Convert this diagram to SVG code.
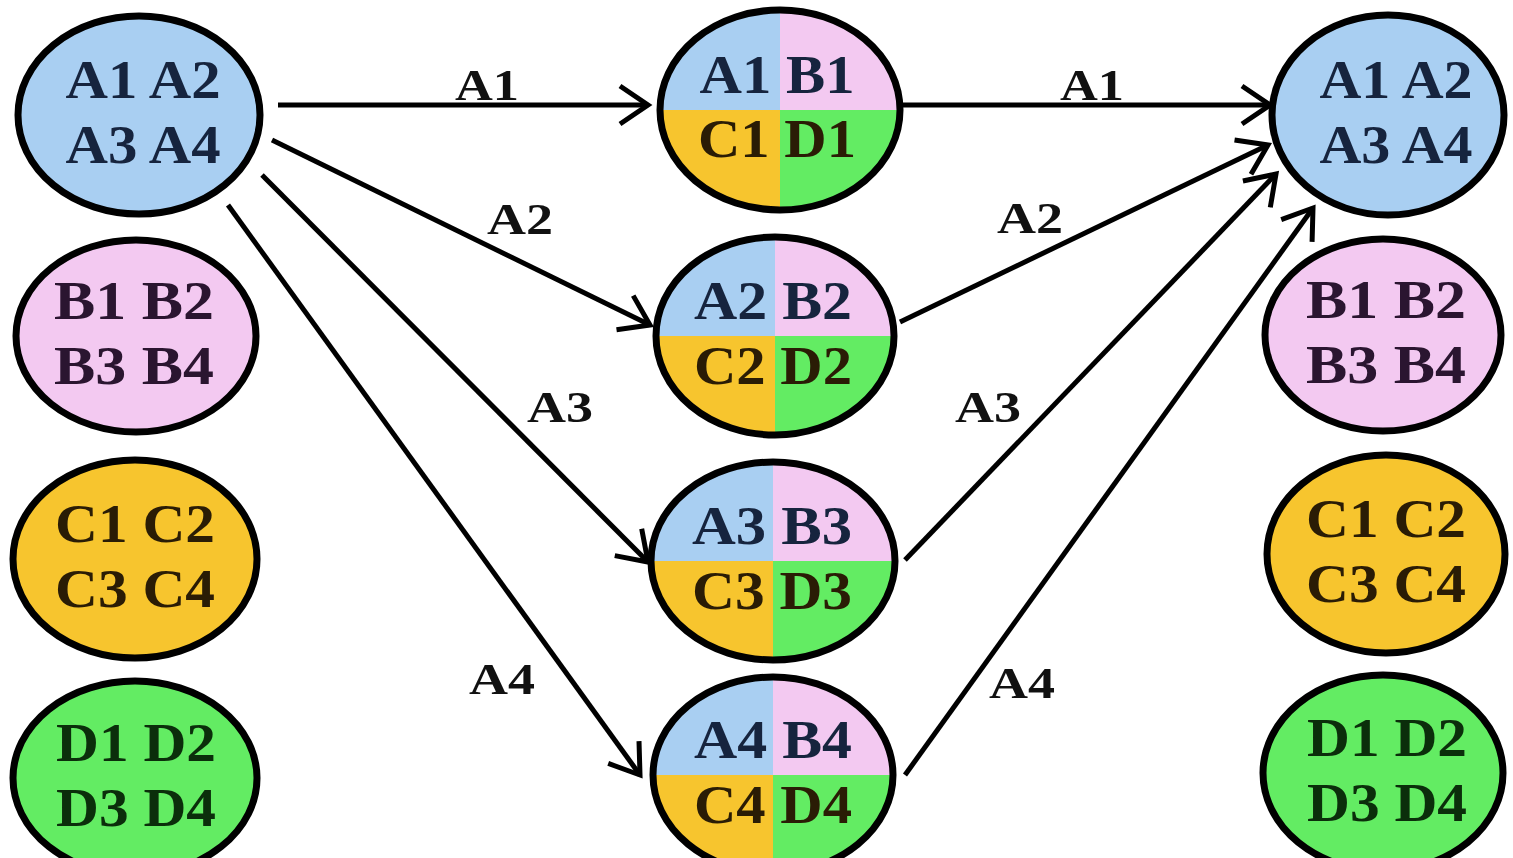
<svg xmlns="http://www.w3.org/2000/svg" width="1513" height="858" viewBox="0 0 1513 858">
<defs>
<style>
.nd{stroke:#000;stroke-width:7}
.q{stroke:none}
.blue{fill:#a9cff2}
.pink{fill:#f3c9f1}
.yel{fill:#f7c52e}
.grn{fill:#63ec63}
.t{font-family:"Liberation Serif","Times New Roman",serif;font-weight:bold;font-size:54px;text-anchor:middle}
.lb{font-family:"Liberation Serif","Times New Roman",serif;font-weight:bold;font-size:45px;text-anchor:middle;fill:#111}
.cn{stroke:#000;stroke-width:5;fill:none}
.tb{fill:#16243e}
.tp{fill:#2a1530}
.ty{fill:#2a1c05}
.tg{fill:#0b2e0b}
</style>
<marker id="ah" markerUnits="userSpaceOnUse" viewBox="-34 -22 40 44" markerWidth="40" markerHeight="44" refX="0" refY="0" orient="auto">
<path d="M-28,-19 L0,0 L-28,19" fill="none" stroke="#000" stroke-width="5" stroke-linejoin="miter"/>
</marker>
</defs>
<rect width="1513" height="858" fill="#fff"/>

<g id="connectors">
<line class="cn" x1="278" y1="105" x2="648" y2="105" marker-end="url(#ah)"/>
<line class="cn" x1="272" y1="140" x2="650" y2="325" marker-end="url(#ah)"/>
<line class="cn" x1="262" y1="175" x2="648" y2="562" marker-end="url(#ah)"/>
<line class="cn" x1="228" y1="205" x2="640" y2="775" marker-end="url(#ah)"/>
<line class="cn" x1="903" y1="105" x2="1270" y2="105" marker-end="url(#ah)"/>
<line class="cn" x1="900" y1="322" x2="1268" y2="145" marker-end="url(#ah)"/>
<line class="cn" x1="905" y1="560" x2="1276" y2="174" marker-end="url(#ah)"/>
<line class="cn" x1="905" y1="775" x2="1313" y2="208" marker-end="url(#ah)"/>
<text class="lb" x="487" y="100" textLength="64" lengthAdjust="spacingAndGlyphs">A1</text>
<text class="lb" x="520" y="234" textLength="66" lengthAdjust="spacingAndGlyphs">A2</text>
<text class="lb" x="560" y="422" textLength="66" lengthAdjust="spacingAndGlyphs">A3</text>
<text class="lb" x="502" y="694" textLength="66" lengthAdjust="spacingAndGlyphs">A4</text>
<text class="lb" x="1092" y="100" textLength="64" lengthAdjust="spacingAndGlyphs">A1</text>
<text class="lb" x="1030" y="233" textLength="66" lengthAdjust="spacingAndGlyphs">A2</text>
<text class="lb" x="988" y="422" textLength="66" lengthAdjust="spacingAndGlyphs">A3</text>
<text class="lb" x="1022" y="698" textLength="66" lengthAdjust="spacingAndGlyphs">A4</text>
</g>

<g id="left-A">
<ellipse class="nd blue" cx="139" cy="115" rx="121" ry="99"/>
<text class="t tb" x="143" y="98" textLength="155" lengthAdjust="spacingAndGlyphs">A1 A2</text>
<text class="t tb" x="143" y="163" textLength="155" lengthAdjust="spacingAndGlyphs">A3 A4</text>
</g>
<g id="left-B">
<ellipse class="nd pink" cx="136" cy="336" rx="120" ry="96"/>
<text class="t tp" x="134" y="319" textLength="160" lengthAdjust="spacingAndGlyphs">B1 B2</text>
<text class="t tp" x="134" y="384" textLength="160" lengthAdjust="spacingAndGlyphs">B3 B4</text>
</g>
<g id="left-C">
<ellipse class="nd yel" cx="135" cy="559" rx="122" ry="99"/>
<text class="t ty" x="135" y="542" textLength="160" lengthAdjust="spacingAndGlyphs">C1 C2</text>
<text class="t ty" x="135" y="607" textLength="160" lengthAdjust="spacingAndGlyphs">C3 C4</text>
</g>
<g id="left-D">
<ellipse class="nd grn" cx="135" cy="778" rx="122" ry="97"/>
<text class="t tg" x="136" y="761" textLength="160" lengthAdjust="spacingAndGlyphs">D1 D2</text>
<text class="t tg" x="136" y="826" textLength="160" lengthAdjust="spacingAndGlyphs">D3 D4</text>
</g>

<g id="mid-1">
<path class="q blue" d="M780,110 L660,110 A120,100 0 0 1 780,10 Z"/>
<path class="q pink" d="M780,110 L780,10 A120,100 0 0 1 900,110 Z"/>
<path class="q grn" d="M780,110 L900,110 A120,100 0 0 1 780,210 Z"/>
<path class="q yel" d="M780,110 L780,210 A120,100 0 0 1 660,110 Z"/>
<ellipse class="nd" fill="none" cx="780" cy="110" rx="120" ry="100"/>
<text class="t tb" x="777" y="93" textLength="155" lengthAdjust="spacingAndGlyphs">A1 B1</text>
<text class="t ty" x="777" y="157" textLength="158" lengthAdjust="spacingAndGlyphs">C1 D1</text>
</g>
<g id="mid-2">
<path class="q blue" d="M775,336 L656,336 A119,99 0 0 1 775,237 Z"/>
<path class="q pink" d="M775,336 L775,237 A119,99 0 0 1 894,336 Z"/>
<path class="q grn" d="M775,336 L894,336 A119,99 0 0 1 775,435 Z"/>
<path class="q yel" d="M775,336 L775,435 A119,99 0 0 1 656,336 Z"/>
<ellipse class="nd" fill="none" cx="775" cy="336" rx="119" ry="99"/>
<text class="t tb" x="773" y="319" textLength="158" lengthAdjust="spacingAndGlyphs">A2 B2</text>
<text class="t ty" x="773" y="384" textLength="158" lengthAdjust="spacingAndGlyphs">C2 D2</text>
</g>
<g id="mid-3">
<path class="q blue" d="M773,561 L651,561 A122,99 0 0 1 773,462 Z"/>
<path class="q pink" d="M773,561 L773,462 A122,99 0 0 1 895,561 Z"/>
<path class="q grn" d="M773,561 L895,561 A122,99 0 0 1 773,660 Z"/>
<path class="q yel" d="M773,561 L773,660 A122,99 0 0 1 651,561 Z"/>
<ellipse class="nd" fill="none" cx="773" cy="561" rx="122" ry="99"/>
<text class="t tb" x="772" y="544" textLength="160" lengthAdjust="spacingAndGlyphs">A3 B3</text>
<text class="t ty" x="772" y="609" textLength="160" lengthAdjust="spacingAndGlyphs">C3 D3</text>
</g>
<g id="mid-4">
<path class="q blue" d="M773,775 L653,775 A120,98 0 0 1 773,677 Z"/>
<path class="q pink" d="M773,775 L773,677 A120,98 0 0 1 893,775 Z"/>
<path class="q grn" d="M773,775 L893,775 A120,98 0 0 1 773,873 Z"/>
<path class="q yel" d="M773,775 L773,873 A120,98 0 0 1 653,775 Z"/>
<ellipse class="nd" fill="none" cx="773" cy="775" rx="120" ry="98"/>
<text class="t tb" x="773" y="758" textLength="158" lengthAdjust="spacingAndGlyphs">A4 B4</text>
<text class="t ty" x="773" y="823" textLength="158" lengthAdjust="spacingAndGlyphs">C4 D4</text>
</g>

<g id="right-A">
<ellipse class="nd blue" cx="1388" cy="115" rx="116" ry="100"/>
<text class="t tb" x="1396" y="98" textLength="153" lengthAdjust="spacingAndGlyphs">A1 A2</text>
<text class="t tb" x="1396" y="163" textLength="153" lengthAdjust="spacingAndGlyphs">A3 A4</text>
</g>
<g id="right-B">
<ellipse class="nd pink" cx="1383" cy="335" rx="118" ry="96"/>
<text class="t tp" x="1386" y="318" textLength="160" lengthAdjust="spacingAndGlyphs">B1 B2</text>
<text class="t tp" x="1386" y="383" textLength="160" lengthAdjust="spacingAndGlyphs">B3 B4</text>
</g>
<g id="right-C">
<ellipse class="nd yel" cx="1386" cy="554" rx="119" ry="99"/>
<text class="t ty" x="1386" y="537" textLength="160" lengthAdjust="spacingAndGlyphs">C1 C2</text>
<text class="t ty" x="1386" y="602" textLength="160" lengthAdjust="spacingAndGlyphs">C3 C4</text>
</g>
<g id="right-D">
<ellipse class="nd grn" cx="1383" cy="773" rx="120" ry="98"/>
<text class="t tg" x="1387" y="756" textLength="160" lengthAdjust="spacingAndGlyphs">D1 D2</text>
<text class="t tg" x="1387" y="821" textLength="160" lengthAdjust="spacingAndGlyphs">D3 D4</text>
</g>
</svg>
